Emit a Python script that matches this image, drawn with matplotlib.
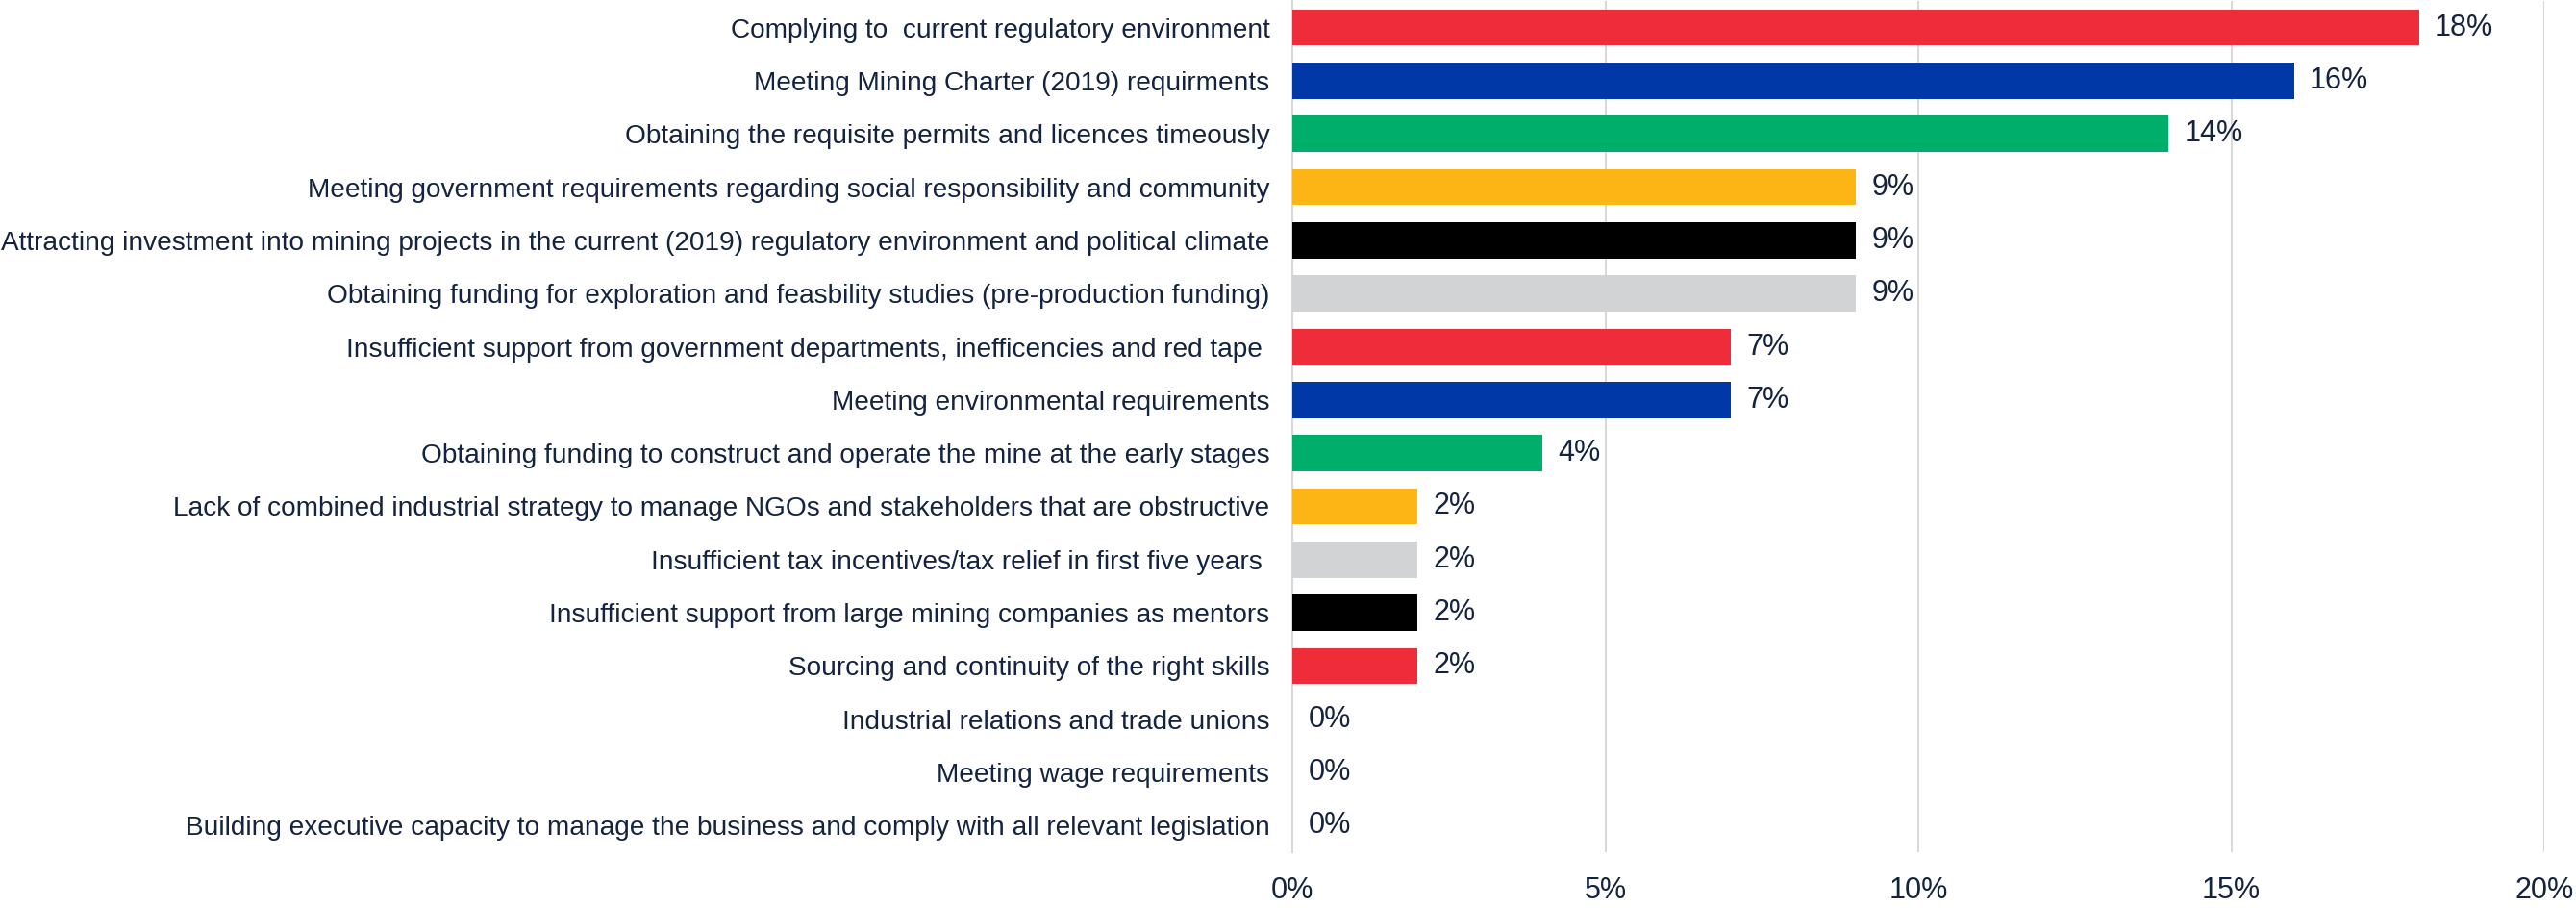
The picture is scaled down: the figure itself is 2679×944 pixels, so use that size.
import numpy as np
import matplotlib
matplotlib.use("Agg")
import matplotlib.pyplot as plt

categories = ["Complying to  current regulatory environment",
              "Meeting Mining Charter (2019) requirments",
              "Obtaining the requisite permits and licences timeously",
              "Meeting government requirements regarding social responsibility and community",
              "Attracting investment into mining projects in the current (2019) regulatory environment and political climate",
              "Obtaining funding for exploration and feasbility studies (pre-production funding)",
              "Insufficient support from government departments, inefficencies and red tape ",
              "Meeting environmental requirements",
              "Obtaining funding to construct and operate the mine at the early stages",
              "Lack of combined industrial strategy to manage NGOs and stakeholders that are obstructive",
              "Insufficient tax incentives/tax relief in first five years ",
              "Insufficient support from large mining companies as mentors",
              "Sourcing and continuity of the right skills",
              "Industrial relations and trade unions",
              "Meeting wage requirements",
              "Building executive capacity to manage the business and comply with all relevant legislation"]
values = [18, 16, 14, 9, 9, 9, 7, 7, 4, 2, 2, 2, 2, 0, 0, 0]
bar_colors = ["#EF2D3A", "#0038A8", "#00AE6B", "#FDB515", "#000000", "#D2D3D5",
              "#EF2D3A", "#0038A8", "#00AE6B", "#FDB515", "#D2D3D5", "#000000",
              "#EF2D3A", "#EF2D3A", "#EF2D3A", "#EF2D3A"]
xticks = [0, 5, 10, 15, 20]

text_col = "#14233f"
plt.rcParams['font.family'] = ['Liberation Sans', 'DejaVu Sans']

fig = plt.figure(figsize=(26.79, 9.44), dpi=100)
ax = fig.add_axes([1344 / 2679, 1 - 886 / 944, (2646 - 1344) / 2679, 885 / 944])

y = np.arange(len(categories))
ax.barh(y, values, height=0.68, color=bar_colors, zorder=3)
for yi, v in zip(y, values):
    ax.text(v + 0.25, yi, f"{v}%", va="center", ha="left", fontsize=22,
            color=text_col, zorder=4)

ax.set_xlim(0, 20)
ax.set_ylim(len(categories) - 0.5, -0.5)
ax.set_yticks(y)
ax.set_yticklabels(categories)
ax.set_xticks(xticks)
ax.set_xticklabels([f"{t}%" for t in xticks])
ax.tick_params(axis="y", length=0, pad=17, labelsize=20.2, labelcolor=text_col)
ax.tick_params(axis="x", length=0, pad=18, labelsize=22, labelcolor=text_col)
ax.grid(axis="x", color="#d9d9d9", linewidth=1.5, zorder=0)
for s in ["top", "right", "bottom"]:
    ax.spines[s].set_visible(False)
ax.spines["left"].set_color("#d9d9d9")
ax.spines["left"].set_linewidth(1.5)

fig.savefig("out.png", dpi=100)
